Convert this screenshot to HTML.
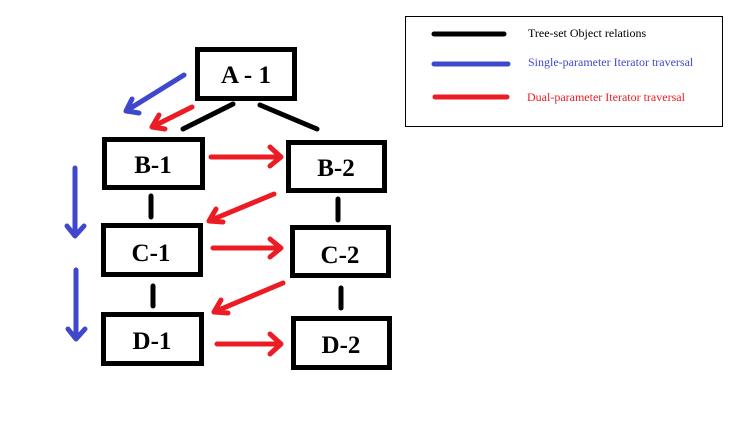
<!DOCTYPE html>
<html><head><meta charset="utf-8"><style>
html,body{margin:0;padding:0;background:#fff;}
svg{display:block;}
.bt{font-family:"Liberation Serif",serif;font-weight:bold;font-size:25px;}
.lg{font-family:"Liberation Serif",serif;font-size:12px;}
</style></head><body>
<svg width="733" height="426" viewBox="0 0 733 426" xmlns="http://www.w3.org/2000/svg">
<g fill="none" stroke="#000" stroke-width="5">
<rect x="197.5" y="49.5" width="97" height="49"/>
<rect x="104.5" y="139.5" width="98" height="48"/>
<rect x="288.5" y="142.5" width="96" height="48"/>
<rect x="103.5" y="225.5" width="97" height="49"/>
<rect x="292.5" y="227.5" width="96" height="48"/>
<rect x="103.5" y="314.5" width="98" height="49"/>
<rect x="293.5" y="318.5" width="96" height="49"/>
</g>
<g class="bt" text-anchor="middle">
<text x="246" y="83">A - 1</text>
<text x="153" y="173">B-1</text>
<text x="336" y="176">B-2</text>
<text x="151" y="261">C-1</text>
<text x="340" y="263">C-2</text>
<text x="152" y="349">D-1</text>
<text x="341" y="353">D-2</text>
</g>
<g stroke="#000" stroke-width="5" stroke-linecap="round">
<line x1="183" y1="129" x2="233" y2="104"/>
<line x1="260" y1="105" x2="317" y2="129"/>
<line x1="151" y1="196" x2="151" y2="217"/>
<line x1="153" y1="286" x2="153" y2="306"/>
<line x1="338" y1="199" x2="338" y2="220"/>
<line x1="341" y1="288" x2="341" y2="308"/>
</g>
<g stroke="#ec1c24" stroke-width="5" stroke-linecap="round" stroke-linejoin="round" fill="none">
<path d="M211 157 H280 M270 147 L281 157 L270 166"/>
<path d="M213 248 H281 M270 239 L281 248 L270 257"/>
<path d="M217 344 H280 M270 334 L281 344 L270 354"/>
<path d="M274 194 L209 221 M223 222 L209 221 L216 209"/>
<path d="M283 283 L214 312 M228 313 L214 312 L221 300"/>
<path d="M192 107 L152 127 M165 129 L152 127 L159 115"/>
</g>
<g stroke="#3f48cc" stroke-width="5" stroke-linecap="round" stroke-linejoin="round" fill="none">
<path d="M184 75 L126 111 M139 113 L126 111 L132 99"/>
<path d="M75 168 V236 M67 226 L75 236 L84 226"/>
<path d="M76 270 V339 M68 329 L76 339 L85 329"/>
</g>
<rect x="405.5" y="16.5" width="317" height="110" fill="none" stroke="#000" stroke-width="1"/>
<g stroke-width="5" stroke-linecap="round">
<line x1="434" y1="34" x2="504" y2="34" stroke="#000"/>
<line x1="434" y1="64" x2="508" y2="64" stroke="#3f48cc"/>
<line x1="435" y1="97" x2="507" y2="97" stroke="#ec1c24"/>
</g>
<text class="lg" x="528" y="37" fill="#000">Tree-set Object relations</text>
<text class="lg" x="528" y="66" fill="#3f48cc">Single-parameter Iterator traversal</text>
<text class="lg" x="527" y="101" fill="#ec1c24">Dual-parameter Iterator traversal</text>
</svg>
</body></html>
